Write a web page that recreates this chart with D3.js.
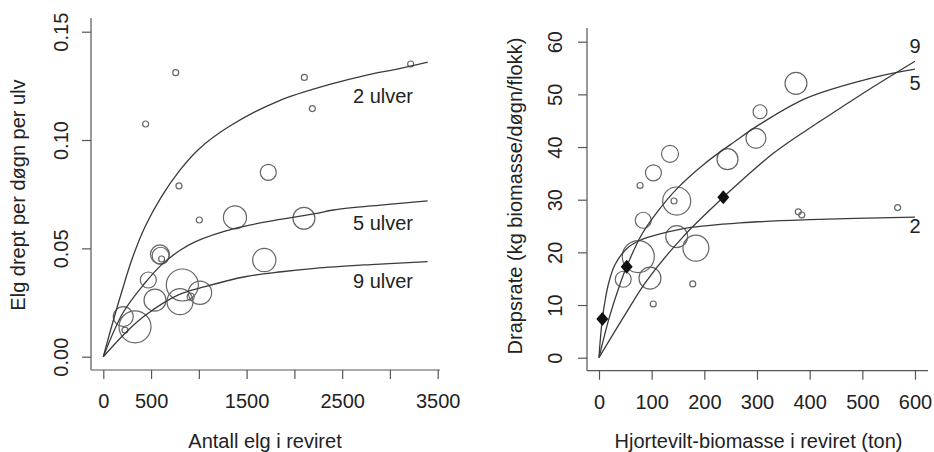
<!DOCTYPE html>
<html>
<head>
<meta charset="utf-8">
<script src="https://cdn.jsdelivr.net/npm/d3@7"></script>
<style>
  body { margin: 0; background: #fff; }
  svg text { font-family: "Liberation Sans", Arial, sans-serif; fill: #222; }
</style>
</head>
<body>
<svg id="chart" width="934" height="452"></svg>
<script>
// ---- left panel data: moose killed per day per wolf ----
var elgX = [443, 758, 2104, 3217, 2188, 792, 1005, 1727, 1378, 2100, 1685, 593, 600, 610,
  471, 541, 827, 803, 1012, 915, 209, 332, 227];
var elgY = [0.1074, 0.1311, 0.1289, 0.1351, 0.1145, 0.0788, 0.0631, 0.0851, 0.0643, 0.0639, 0.0446, 0.0472, 0.0466, 0.0451,
  0.0354, 0.0261, 0.0331, 0.0254, 0.0295, 0.0277, 0.0185, 0.0138, 0.0123];
var elgW = [3.5, 3.5, 3.5, 3.5, 3.5, 3.5, 3.5, 25, 52, 47, 53, 35, 28, 3.5,
  25, 47, 100, 66, 53, 5, 39, 100, 3.5];

// fitted curves
var elgCurveX = {
  '2 ulver': [0, 100, 200, 300, 437, 611, 800, 1005, 1308, 1832, 2400, 2757, 3100, 3396],
  '5 ulver': [0, 209, 436, 611, 800, 960, 1378, 1867, 2216, 2408, 2900, 3395],
  '9 ulver': [0, 262, 437, 785, 1064, 1483, 1867, 2216, 2800, 3395]
};
var elgCurveY = {
  '2 ulver': [0, 0.016, 0.031, 0.045, 0.060, 0.074, 0.086, 0.096, 0.106, 0.118, 0.126, 0.130, 0.133, 0.136],
  '5 ulver': [0, 0.0205, 0.034, 0.0425, 0.049, 0.053, 0.0592, 0.0635, 0.066, 0.0677, 0.070, 0.0719],
  '9 ulver': [0, 0.0123, 0.019, 0.0285, 0.0323, 0.0369, 0.0392, 0.0408, 0.0425, 0.0439]
};
var elgXTicks = [0, 500, 1000, 1500, 2000, 2500, 3000, 3500];
var elgXLabels = ['0', '500', '', '1500', '', '2500', '', '3500'];
var elgYTicks = [0, 0.05, 0.10, 0.15];

// ---- right panel data: kill rate in kg biomass ----
var bioX = [374, 305.7, 298, 244, 134.8, 103.3, 78, 147.5, 142.4, 84, 378.4, 385, 567,
  147.5, 184, 74.6, 46, 96.8, 178, 103];
var bioY = [52.1, 46.7, 41.65, 37.7, 38.7, 35.1, 32.7, 29.75, 29.75, 26.1, 27.7, 27.1, 28.5,
  23.0, 20.8, 19.2, 14.9, 15.1, 14.0, 10.2];
var bioW = [47, 19, 39, 43, 28, 25, 3.5, 77, 3.5, 25, 3.5, 3.5, 3.5,
  47, 66, 100, 25, 47, 3.5, 3.5];
var diamondX = [6.3, 52.6, 236];
var diamondY = [7.35, 17.28, 30.45];

var bioCurveX = {
  '2': [0, 2, 6.3, 12, 17.7, 30, 52.6, 78, 120, 166, 268, 400, 600],
  '5': [0, 20, 40, 52.6, 80, 110, 150, 200, 260, 305, 394, 521, 600],
  '9': [0, 46, 90.5, 160, 236, 268, 331, 394, 457.6, 521, 600]
};
var bioCurveY = {
  '2': [0, 2.85, 7.35, 11.1, 13.9, 17.6, 20.7, 22.3, 23.6, 24.6, 25.6, 26.2, 26.7],
  '5': [0, 7.8, 14.0, 17.3, 23.2, 27.6, 32.3, 36.8, 41.2, 44.3, 49.3, 53.2, 54.8],
  '9': [0, 7.6, 14.6, 23, 30.45, 33.4, 38.8, 43.2, 47.35, 51.45, 56.3]
};
var bioXTicks = [0, 100, 200, 300, 400, 500, 600];
var bioYTicks = [0, 10, 20, 30, 40, 50, 60];

var svg = d3.select('#chart');
var lineCol = '#3a3a3a';
var ptCol = '#666';
var rScale = d3.scaleSqrt().domain([0, 100]).range([0, 16]);

function drawPanel(opt){
  var g = svg.append('g');
  var x = opt.x, y = opt.y;

  // L-shaped frame
  g.append('line').attr('x1', opt.frame.left).attr('x2', opt.frame.left)
    .attr('y1', opt.frame.top).attr('y2', opt.frame.bottom)
    .attr('stroke', '#555').attr('stroke-width', 1.2);
  g.append('line').attr('x1', opt.frame.left).attr('x2', opt.frame.right)
    .attr('y1', opt.frame.bottom).attr('y2', opt.frame.bottom)
    .attr('stroke', '#555').attr('stroke-width', 1.2);

  // x axis
  var xa = g.append('g')
    .attr('transform', 'translate(0,' + opt.frame.bottom + ')')
    .call(d3.axisBottom(x).tickValues(opt.xTicks).tickSize(9).tickSizeOuter(0)
      .tickFormat(function(d, i){ return opt.xLabels ? opt.xLabels[i] : d; }));
  xa.select('.domain').remove();
  xa.selectAll('.tick line').attr('stroke', '#555').attr('stroke-width', 1.2);
  xa.selectAll('.tick text').attr('y', 38).attr('dy', 0)
    .style('font-size', '20px').attr('fill', '#222');

  // y axis, labels parallel to the axis
  var ya = g.append('g')
    .attr('transform', 'translate(' + opt.frame.left + ',0)')
    .call(d3.axisLeft(y).tickValues(opt.yTicks).tickSize(9).tickSizeOuter(0)
      .tickFormat(opt.yFormat));
  ya.select('.domain').remove();
  ya.selectAll('.tick line').attr('stroke', '#555').attr('stroke-width', 1.2);
  ya.selectAll('.tick text')
    .attr('x', 0).attr('dy', 0)
    .attr('transform', 'translate(' + opt.yLabelOff + ',0) rotate(-90)')
    .attr('text-anchor', 'middle')
    .style('font-size', '20px').attr('fill', '#222');

  // titles
  g.append('text').attr('x', opt.xTitle[0]).attr('y', opt.xTitle[1])
    .attr('text-anchor', 'middle').style('font-size', '20px').text(opt.xTitle[2]);
  g.append('text')
    .attr('transform', 'translate(' + opt.yTitle[0] + ',' + opt.yTitle[1] + ') rotate(-90)')
    .attr('text-anchor', 'middle').style('font-size', '20px').text(opt.yTitle[2]);

  // circles
  g.selectAll('circle.pt')
    .data(d3.range(opt.px.length))
    .enter().append('circle')
    .attr('class', 'pt')
    .attr('cx', function(i){ return x(opt.px[i]); })
    .attr('cy', function(i){ return y(opt.py[i]); })
    .attr('r', function(i){ return rScale(opt.pw[i]); })
    .attr('fill', 'none')
    .attr('stroke', ptCol)
    .attr('stroke-width', 1.2);

  // curves
  var line = d3.line()
    .x(function(d){ return x(d[0]); })
    .y(function(d){ return y(d[1]); })
    .curve(d3.curveCatmullRom.alpha(0.5));
  Object.keys(opt.cx).forEach(function(k){
    var pts = opt.cx[k].map(function(v, i){ return [v, opt.cy[k][i]]; });
    g.append('path').attr('d', line(pts))
      .attr('fill', 'none').attr('stroke', lineCol).attr('stroke-width', 1.3);
  });

  // curve labels
  opt.labels.forEach(function(l){
    g.append('text').attr('x', l[1]).attr('y', l[2])
      .attr('text-anchor', l[3]).style('font-size', '20px').text(l[0]);
  });
  return g;
}

// left panel
var xL = d3.scaleLinear().domain([0, 3500]).range([103.3, 437.7]);
var yL = d3.scaleLinear().domain([0, 0.15]).range([356.7, 31.7]);
drawPanel({
  x: xL, y: yL,
  frame: {left: 91, right: 440, top: 18, bottom: 370},
  xTicks: elgXTicks, xLabels: elgXLabels,
  yTicks: elgYTicks, yFormat: d3.format('.2f'), yLabelOff: -23,
  xTitle: [265, 448, 'Antall elg i reviret'],
  yTitle: [25, 195, 'Elg drept per døgn per ulv'],
  px: elgX, py: elgY, pw: elgW,
  cx: elgCurveX, cy: elgCurveY,
  labels: [['2 ulver', 353, 103, 'start'], ['5 ulver', 353, 230, 'start'], ['9 ulver', 353, 288, 'start']]
});

// right panel
var xR = d3.scaleLinear().domain([0, 600]).range([599, 915]);
var yR = d3.scaleLinear().domain([0, 60]).range([357.7, 41.7]);
var gR = drawPanel({
  x: xR, y: yR,
  frame: {left: 587, right: 928, top: 28, bottom: 370.7},
  xTicks: bioXTicks, xLabels: null,
  yTicks: bioYTicks, yFormat: d3.format('d'), yLabelOff: -25.5,
  xTitle: [758.5, 448, 'Hjortevilt-biomasse i reviret (ton)'],
  yTitle: [522, 196, 'Drapsrate (kg biomasse/døgn/flokk)'],
  px: bioX, py: bioY, pw: bioW,
  cx: bioCurveX, cy: bioCurveY,
  labels: [['9', 915, 53, 'middle'], ['5', 915, 90, 'middle'], ['2', 915, 233, 'middle']]
});

// filled diamonds
gR.selectAll('path.dia')
  .data(d3.range(diamondX.length))
  .enter().append('path')
  .attr('class', 'dia')
  .attr('d', 'M0,-7L6,0L0,7L-6,0Z')
  .attr('transform', function(i){ return 'translate(' + xR(diamondX[i]) + ',' + yR(diamondY[i]) + ')'; })
  .attr('fill', '#111');
</script>
</body>
</html>
